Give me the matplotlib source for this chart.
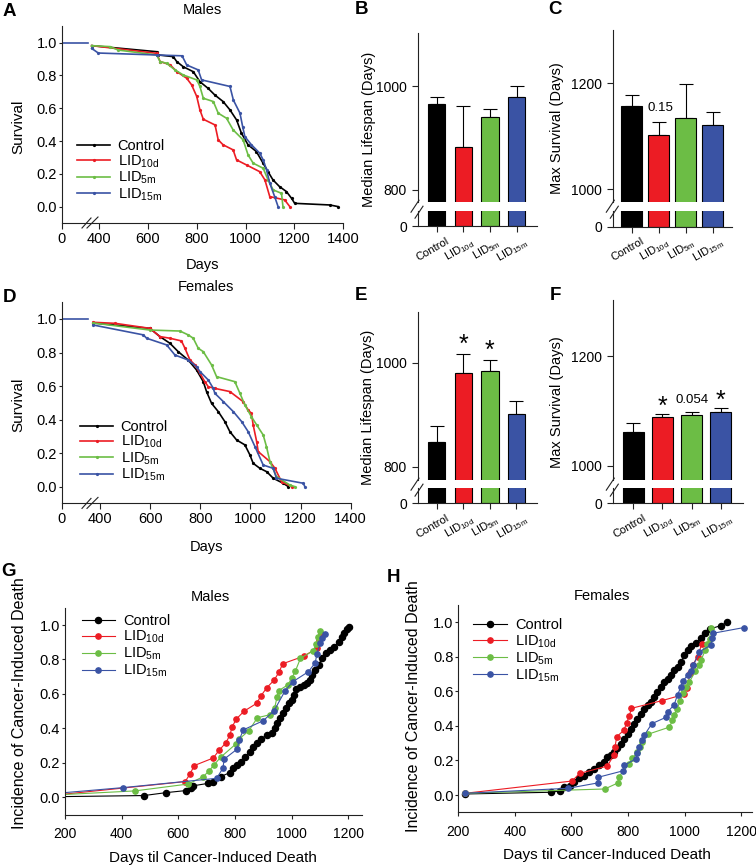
import numpy as np
import matplotlib
matplotlib.use('Agg')
import matplotlib.pyplot as plt
from matplotlib.lines import Line2D
from matplotlib.transforms import ScaledTranslation

plt.rcParams['font.family'] = ['Liberation Sans', 'DejaVu Sans']
plt.rcParams['mathtext.fontset'] = 'custom'
plt.rcParams['mathtext.rm'] = 'Liberation Sans'
plt.rcParams['mathtext.it'] = 'Liberation Sans:italic'
plt.rcParams['mathtext.bf'] = 'Liberation Sans:bold'
plt.rcParams['axes.linewidth'] = 0.8

# ---------------- data ----------------
groups = ['Control', r'LID$_{\mathrm{10d}}$', r'LID$_{\mathrm{5m}}$', r'LID$_{\mathrm{15m}}$']

# survival before the axis break (all animals alive)
pre_days = [0, 350]
pre_surv = [1.0, 1.0]

# A - males survival
am_ctrl_days = [370, 636, 643, 704, 718, 745, 786, 813, 847, 874, 908, 936, 963, 983, 1010, 1044, 1072, 1092, 1112, 1139, 1167, 1188, 1201, 1345, 1379]
am_ctrl_surv = [0.982, 0.945, 0.925, 0.915, 0.885, 0.853, 0.823, 0.762, 0.721, 0.681, 0.641, 0.590, 0.529, 0.448, 0.377, 0.336, 0.264, 0.213, 0.163, 0.122, 0.092, 0.051, 0.020, 0.010, 0.0]
am_10d_days = [370, 636, 650, 691, 718, 759, 779, 800, 813, 827, 875, 888, 908, 949, 963, 1004, 1058, 1079, 1099, 1160, 1181]
am_10d_surv = [0.982, 0.935, 0.885, 0.865, 0.824, 0.783, 0.743, 0.672, 0.590, 0.533, 0.498, 0.407, 0.377, 0.346, 0.285, 0.254, 0.213, 0.163, 0.061, 0.041, 0.0]
am_5m_days = [370, 445, 479, 636, 650, 677, 711, 745, 800, 813, 827, 868, 888, 922, 949, 990, 1010, 1031, 1072, 1092, 1113, 1147, 1153]
am_5m_surv = [0.982, 0.976, 0.955, 0.925, 0.885, 0.874, 0.834, 0.803, 0.773, 0.733, 0.661, 0.641, 0.570, 0.539, 0.468, 0.407, 0.316, 0.265, 0.234, 0.163, 0.102, 0.081, 0.0]
am_15m_days = [370, 397, 636, 740, 759, 806, 820, 936, 950, 977, 988, 997, 1024, 1058, 1072, 1086, 1099, 1119, 1133]
am_15m_surv = [0.965, 0.937, 0.925, 0.920, 0.864, 0.834, 0.773, 0.733, 0.650, 0.570, 0.488, 0.427, 0.377, 0.326, 0.285, 0.224, 0.143, 0.061, 0.0]

# D - females survival
af_ctrl_days = [373, 599, 639, 679, 712, 752, 785, 812, 825, 845, 872, 898, 918, 945, 978, 998, 1011, 1038, 1065, 1091, 1131, 1151]
af_ctrl_surv = [0.976, 0.944, 0.895, 0.855, 0.805, 0.755, 0.696, 0.626, 0.567, 0.497, 0.447, 0.388, 0.328, 0.278, 0.249, 0.189, 0.139, 0.109, 0.089, 0.050, 0.020, 0.0]
af_10d_days = [373, 460, 599, 639, 679, 725, 739, 759, 779, 799, 818, 832, 858, 918, 971, 991, 1004, 1011, 1025, 1031, 1078, 1098, 1124, 1164]
af_10d_surv = [0.980, 0.974, 0.944, 0.895, 0.885, 0.869, 0.825, 0.755, 0.726, 0.676, 0.626, 0.596, 0.586, 0.567, 0.507, 0.457, 0.437, 0.368, 0.268, 0.209, 0.149, 0.109, 0.030, 0.0]
af_5m_days = [373, 599, 719, 752, 772, 792, 812, 845, 865, 938, 958, 978, 1004, 1025, 1051, 1064, 1078, 1104, 1157, 1177]
af_5m_surv = [0.976, 0.934, 0.928, 0.905, 0.885, 0.825, 0.805, 0.726, 0.656, 0.626, 0.557, 0.487, 0.417, 0.368, 0.308, 0.239, 0.149, 0.060, 0.010, 0.0]
af_15m_days = [373, 573, 586, 666, 699, 752, 785, 799, 832, 852, 858, 892, 932, 965, 991, 1018, 1051, 1091, 1104, 1211, 1217]
af_15m_surv = [0.964, 0.905, 0.885, 0.845, 0.785, 0.755, 0.716, 0.686, 0.636, 0.586, 0.557, 0.507, 0.447, 0.388, 0.328, 0.239, 0.129, 0.109, 0.050, 0.020, 0.0]

# B/C - males median lifespan and max survival (mean, upper error)
m_median = [965, 882, 941, 979]
m_median_err = [14, 79, 16, 21]
m_max = [1158, 1103, 1134, 1121]
m_max_err = [19, 24, 64, 25]

# E/F - females
f_median = [848, 980, 984, 901]
f_median_err = [30, 36, 21, 25]
f_max = [1062, 1089, 1092, 1099]
f_max_err = [16, 5, 7, 6]

# G - males cancer-induced death incidence
gm_ctrl_days = [150, 479, 557, 627, 643, 650, 706, 723, 749, 782, 792, 806, 820, 836, 853, 865, 877, 891, 912, 930, 942, 948, 959, 969, 981, 992, 1001, 1007, 1016, 1028, 1042, 1054, 1063, 1071, 1083, 1095, 1107, 1122, 1136, 1150, 1166, 1177, 1186, 1195, 1201]
gm_ctrl_inc = [0.003, 0.010, 0.027, 0.039, 0.052, 0.066, 0.081, 0.091, 0.120, 0.143, 0.168, 0.188, 0.207, 0.236, 0.265, 0.294, 0.317, 0.337, 0.362, 0.375, 0.400, 0.429, 0.458, 0.487, 0.516, 0.545, 0.565, 0.594, 0.627, 0.642, 0.652, 0.665, 0.681, 0.710, 0.739, 0.768, 0.807, 0.836, 0.855, 0.874, 0.903, 0.928, 0.952, 0.975, 0.990]
gm_10d_days = [150, 624, 641, 656, 723, 745, 768, 782, 790, 805, 832, 876, 892, 912, 938, 956, 968, 1044, 1088, 1096, 1102]
gm_10d_inc = [0.010, 0.091, 0.135, 0.184, 0.228, 0.275, 0.317, 0.362, 0.410, 0.455, 0.500, 0.545, 0.590, 0.636, 0.680, 0.729, 0.775, 0.820, 0.865, 0.913, 0.950]
gm_5m_days = [150, 447, 635, 688, 708, 726, 749, 802, 814, 849, 879, 925, 940, 948, 954, 986, 1001, 1013, 1031, 1075, 1087, 1093, 1101]
gm_5m_inc = [0.012, 0.037, 0.077, 0.120, 0.153, 0.188, 0.232, 0.308, 0.337, 0.387, 0.462, 0.480, 0.520, 0.580, 0.619, 0.652, 0.694, 0.733, 0.807, 0.850, 0.890, 0.928, 0.965]
gm_15m_days = [150, 404, 735, 757, 762, 807, 815, 829, 900, 938, 977, 1004, 1059, 1083, 1089, 1101, 1107, 1116]
gm_15m_inc = [0.020, 0.056, 0.110, 0.168, 0.222, 0.279, 0.333, 0.391, 0.445, 0.503, 0.619, 0.671, 0.729, 0.781, 0.832, 0.894, 0.923, 0.946]

# H - females cancer-induced death incidence
gf_ctrl_days = [224, 529, 561, 573, 596, 608, 626, 644, 662, 679, 697, 715, 727, 738, 750, 762, 774, 786, 798, 809, 821, 833, 845, 857, 869, 880, 892, 904, 916, 928, 940, 951, 963, 975, 987, 999, 1011, 1022, 1040, 1058, 1073, 1088, 1129, 1149]
gf_ctrl_inc = [0.006, 0.016, 0.025, 0.045, 0.054, 0.074, 0.097, 0.112, 0.132, 0.151, 0.171, 0.190, 0.219, 0.233, 0.248, 0.271, 0.297, 0.326, 0.355, 0.384, 0.413, 0.442, 0.471, 0.496, 0.519, 0.539, 0.568, 0.597, 0.626, 0.655, 0.674, 0.694, 0.723, 0.742, 0.771, 0.810, 0.839, 0.864, 0.878, 0.907, 0.936, 0.961, 0.981, 1.000]
gf_10d_days = [224, 602, 629, 727, 750, 754, 760, 786, 795, 804, 812, 919, 999, 1007, 1020, 1028, 1046, 1060]
gf_10d_inc = [0.010, 0.081, 0.125, 0.168, 0.232, 0.280, 0.338, 0.376, 0.419, 0.457, 0.502, 0.546, 0.583, 0.618, 0.705, 0.753, 0.800, 0.873]
gf_5m_days = [224, 718, 764, 768, 804, 815, 833, 843, 851, 869, 946, 957, 963, 973, 985, 995, 1005, 1017, 1038, 1052, 1058, 1073, 1078, 1088, 1093]
gf_5m_inc = [0.010, 0.035, 0.070, 0.107, 0.180, 0.213, 0.248, 0.277, 0.306, 0.351, 0.393, 0.432, 0.461, 0.500, 0.545, 0.590, 0.625, 0.655, 0.717, 0.752, 0.781, 0.839, 0.872, 0.901, 0.969]
gf_15m_days = [224, 588, 693, 695, 782, 786, 827, 833, 838, 851, 857, 884, 934, 940, 963, 975, 987, 993, 1011, 1022, 1031, 1052, 1093, 1097, 1099, 1208]
gf_15m_inc = [0.010, 0.039, 0.070, 0.103, 0.140, 0.171, 0.209, 0.244, 0.277, 0.316, 0.345, 0.413, 0.450, 0.481, 0.523, 0.581, 0.626, 0.659, 0.694, 0.717, 0.752, 0.829, 0.868, 0.907, 0.936, 0.969]

# ---------------- layout helpers ----------------
W, H = 756, 866
colors = ['#000000', '#ec1c24', '#6cbd45', '#3a53a4']
SPINE = '#222222'

fig = plt.figure(figsize=(W / 100, H / 100), dpi=100)


def add_ax(l, t, r, b):
    return fig.add_axes([l / W, 1 - b / H, (r - l) / W, (b - t) / H])


def ftext(x, y, s, **kw):
    kw.setdefault('ha', 'center')
    kw.setdefault('va', 'center')
    fig.text(x / W, 1 - y / H, s, **kw)


def fline(xs, ys, **kw):
    fig.add_artist(Line2D([x / W for x in xs], [1 - y / H for y in ys],
                          transform=fig.transFigure, color=SPINE, lw=0.8, **kw))


def style(ax):
    for s in ['top', 'right']:
        ax.spines[s].set_visible(False)
    for s in ['left', 'bottom']:
        ax.spines[s].set_color(SPINE)
    ax.tick_params(colors=SPINE, labelcolor='black', width=0.8)


# broken x axis: 0..355 compressed, linear afterwards
def fwd(x):
    x = np.asarray(x, float)
    return np.where(x >= 355, x, 355 - (355 - x) * 0.3)


def inv(u):
    u = np.asarray(u, float)
    return np.where(u >= 355, u, 355 - (355 - u) / 0.3)


def survival_panel(box, curves, leg_anchor, title, ty, xl_y):
    l, t, r, b = box
    ax = add_ax(l, t, r, b)
    ax.set_xscale('function', functions=(fwd, inv))
    ax.plot(pre_days, pre_surv, color=colors[3], lw=1.2)
    for (d, s), c, lab in zip(curves, colors, groups):
        ax.plot(d, s, color=c, lw=1.2, marker='o', ms=1.3, label=lab)
    ax.set_xlim(0, 1400)
    ax.set_ylim(-0.1, 1.1)
    ax.set_xticks([0, 400, 600, 800, 1000, 1200, 1400])
    ax.set_xticks([], minor=True)
    ax.set_yticks([0, 0.2, 0.4, 0.6, 0.8, 1.0])
    ax.yaxis.set_major_formatter('{x:.1f}')
    style(ax)
    ax.tick_params(axis='x', length=4, pad=2.5, labelsize=10.5)
    ax.tick_params(axis='y', length=2, pad=1.5, labelsize=10.5)
    ax.legend(loc='upper left', bbox_to_anchor=leg_anchor, frameon=False, fontsize=10.5,
              handlelength=2.3, handletextpad=0.5, labelspacing=0.0, borderpad=0,
              borderaxespad=0)
    # break marks on the x axis
    fline([l + 20, l + 29], [b + 5, b - 5])
    fline([l + 25, l + 36], [b + 5, b - 6])
    ftext((l + r) / 2, ty, title, fontsize=10.5)
    ftext((l + r) / 2, xl_y, 'Days', fontsize=10.5)
    ftext(18, (t + b) / 2 + 2, 'Survival', fontsize=11, rotation=90)
    return ax


def bar_panel(l, r, t, bt, bb, b, ylim, yticks, vals, errs, xlim, width, ylabel, ylx):
    ax = add_ax(l, t, r, bt)
    axb = add_ax(l, bb, r, b)
    x = np.arange(len(vals))
    for a in (ax, axb):
        a.bar(x, vals, width, color=colors, edgecolor='black', lw=0.8, zorder=2)
        a.set_xlim(xlim)
        style(a)
    ax.errorbar(x, vals, yerr=[np.zeros(len(errs)), errs], fmt='none', ecolor='black',
                elinewidth=0.8, capsize=4.8, capthick=0.8, zorder=1)
    ax.set_ylim(ylim)
    ax.set_yticks(yticks)
    ax.spines['bottom'].set_visible(False)
    ax.set_xticks([])
    ax.tick_params(axis='y', length=4, pad=4, labelsize=10)
    axb.set_ylim(0, 100)
    axb.set_yticks([0])
    axb.tick_params(axis='y', length=4, pad=4, labelsize=10)
    axb.set_xticks(x)
    axb.set_xticklabels(groups, rotation=30, fontsize=8, ha='center')
    axb.tick_params(axis='x', length=4, pad=3)
    for lbl in axb.get_xticklabels():
        lbl.set_transform(lbl.get_transform() + ScaledTranslation(-0.04, 0, fig.dpi_scale_trans))
    mid = (bt + bb) / 2
    fline([l - 7, l + 1], [mid + 6, mid - 6])
    fline([l - 3, l + 5], [mid + 12, mid])
    ftext(ylx, (t + b) / 2, ylabel, fontsize=10.5, rotation=90)
    return ax


# ---------------- panels A-F ----------------
survival_panel((62, 26.3, 343.3, 223),
               [(am_ctrl_days, am_ctrl_surv), (am_10d_days, am_10d_surv),
                (am_5m_days, am_5m_surv), (am_15m_days, am_15m_surv)],
               (0.053, 0.425), 'Males', 10, 265)
survival_panel((62, 302.2, 350.7, 503.4),
               [(af_ctrl_days, af_ctrl_surv), (af_10d_days, af_10d_surv),
                (af_5m_days, af_5m_surv), (af_15m_days, af_15m_surv)],
               (0.062, 0.415), 'Females', 286.7, 546.7)

bar_panel(418, 537, 33, 201.7, 210.7, 226, (777, 1103), [800, 1000],
          m_median, m_median_err, (-0.7, 3.76), 0.65, 'Median Lifespan (Days)', 369.5)
axc = bar_panel(613.3, 731.7, 30.3, 201.7, 210.7, 226.7, (976.6, 1300), [1000, 1200],
                m_max, m_max_err, (-0.68, 3.70), 0.78, 'Max Survival (Days)', 557)
axe = bar_panel(418, 536.7, 311.7, 480, 488.3, 503.3, (774.4, 1098), [800, 1000],
                f_median, f_median_err, (-0.7, 3.76), 0.65, 'Median Lifespan (Days)', 368)
axf = bar_panel(613.3, 742.7, 300, 480, 488.3, 503.3, (974.5, 1302), [1000, 1200],
                f_max, f_max_err, (-0.685, 3.75), 0.72, 'Max Survival (Days)', 557)

axc.annotate('0.15', xy=(1, m_max[1] + m_max_err[1]), xytext=(1, 10), textcoords='offset points',
             ha='center', va='center', fontsize=9.5)
for i in (1, 2):
    axe.annotate('*', xy=(i, f_median[i] + f_median_err[i]), xytext=(0, -2), textcoords='offset points',
                 ha='center', va='bottom', fontsize=18)
for i, s in [(1, '*'), (2, '0.054'), (3, '*')]:
    if s == '*':
        axf.annotate(s, xy=(i, f_max[i] + f_max_err[i]), xytext=(0, -3), textcoords='offset points',
                     ha='center', va='bottom', fontsize=18)
    else:
        axf.annotate(s, xy=(i, f_max[i] + f_max_err[i]), xytext=(0, 8.5), textcoords='offset points',
                     ha='center', va='center', fontsize=9.5)


# ---------------- panels G-H ----------------
def incidence_panel(box, curves, xmax, leg_anchor, title, tx, ty, xlx, xly, ylx, yly):
    l, t, r, b = box
    ax = add_ax(l, t, r, b)
    for (d, s), c, lab in zip(curves, colors, groups):
        ms = 4.4 if c == '#000000' else 3.8
        ax.plot(d, s, color=c, lw=0.8, marker='o', ms=ms, mec=c, label=lab)
    ax.set_xlim(200, xmax)
    ax.set_ylim(-0.1, 1.1)
    ax.set_xticks([200, 400, 600, 800, 1000, 1200])
    ax.set_yticks([0, 0.2, 0.4, 0.6, 0.8, 1.0])
    ax.yaxis.set_major_formatter('{x:.1f}')
    style(ax)
    ax.tick_params(axis='x', length=3, pad=6, labelsize=10)
    ax.tick_params(axis='y', length=2, pad=1.5, labelsize=10.5)
    ax.legend(loc='upper left', bbox_to_anchor=leg_anchor, frameon=False, fontsize=10.5,
              handlelength=2.3, handletextpad=0.55, labelspacing=0.05, borderpad=0,
              borderaxespad=0)
    ftext(tx, ty, title, fontsize=10.5)
    ftext(xlx, xly, 'Days til Cancer-Induced Death', fontsize=11)
    ftext(ylx, yly, 'Incidence of Cancer-Induced Death', fontsize=11.5, rotation=90)


incidence_panel((65, 607.8, 361.7, 814.5),
                [(gm_ctrl_days, gm_ctrl_inc), (gm_10d_days, gm_10d_inc),
                 (gm_5m_days, gm_5m_inc), (gm_15m_days, gm_15m_inc)],
                1247, (0.056, 0.97), 'Males', 210, 597, 213, 858.3, 20, 703)
incidence_panel((458.3, 605, 752, 812.3),
                [(gf_ctrl_days, gf_ctrl_inc), (gf_10d_days, gf_10d_inc),
                 (gf_5m_days, gf_5m_inc), (gf_15m_days, gf_15m_inc)],
                1238, (0.051, 0.935), 'Females', 601.7, 596, 606.7, 855, 413.3, 706)

# panel letters
for s, x, y in [('A', 9, 12), ('B', 361.5, 10), ('C', 555, 10), ('D', 9, 297),
                ('E', 361.5, 296), ('F', 555, 296), ('G', 8, 572), ('H', 394, 577)]:
    ftext(x, y, s, fontsize=13.5, fontweight='bold')

fig.savefig('out.png', dpi=100)
